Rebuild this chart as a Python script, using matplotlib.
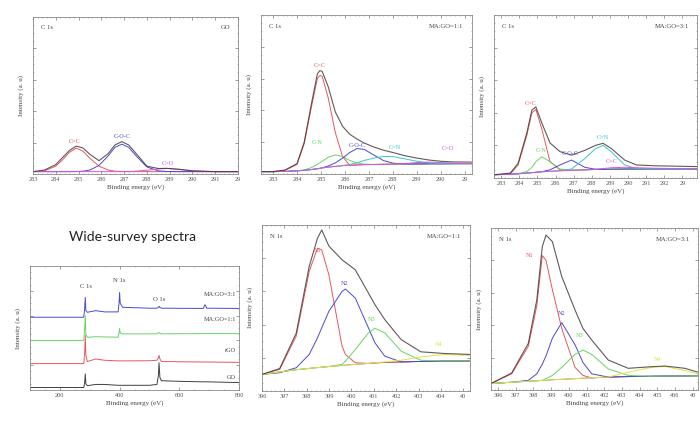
import numpy as np
import matplotlib
matplotlib.use('Agg')
import matplotlib.pyplot as plt

plt.rcParams['font.family'] = ['Liberation Serif', 'DejaVu Serif']

# ---- C 1s, GO ----
c_go_x = [283, 283.5, 284, 284.3, 284.6, 284.9, 285.2, 285.5, 285.9, 286.3, 286.6,
          286.9, 287.2, 287.5, 288, 288.5, 288.9, 289.4, 290, 291, 292]
c_go_env = [1.5, 2.5, 6, 10.5, 15, 17.8, 16.5, 12.5, 8.5, 13, 18.5,
            20.6, 18.5, 13.5, 5, 3.5, 3.6, 3, 2, 1.5, 1.5]
c_go_cc = [1.5, 2, 5, 9, 13.8, 16.5, 14.5, 10, 5, 2.5, 1.8,
           1.6, 1.5, 1.5, 1.5, 1.5, 1.5, 1.5, 1.5, 1.5, 1.5]
c_go_coc = [1.5, 1.5, 1.5, 1.5, 1.5, 1.6, 1.8, 2.5, 5.5, 11.5, 17,
            19, 17, 12, 4.5, 2, 1.6, 1.5, 1.5, 1.5, 1.5]
c_go_co = [1.5, 1.5, 1.5, 1.5, 1.5, 1.5, 1.5, 1.5, 1.5, 1.5, 1.5,
           1.5, 1.5, 1.8, 2.4, 3.2, 3.5, 3.0, 2.0, 1.5, 1.5]

# ---- C 1s, MA:GO=1:1 ----
c_11_x = [282.5, 283, 283.5, 284, 284.3, 284.6, 284.85, 284.95, 285.05, 285.3, 285.6, 285.9, 286.2,
          286.5, 286.8, 287.2, 287.6, 288, 288.5, 289, 289.5, 290, 290.5, 291.3]
c_11_env = [1.5, 1.5, 2.5, 6.5, 20, 44, 63, 65, 64.5, 55, 39, 30, 25,
            22, 19.5, 17, 15, 13.5, 11.5, 10, 8.8, 8, 7.6, 7.5]
c_11_base = [1.5, 1.5, 1.6, 2, 2.3, 2.8, 3.3, 3.5, 3.8, 4.3, 4.8, 5.2, 5.5,
             5.7, 5.9, 6.0, 6.1, 6.2, 6.3, 6.3, 6.4, 6.4, 6.5, 6.5]
c_11_cc = [1.5, 1.5, 2.3, 6, 19, 42, 60, 62, 61.5, 48, 26, 11, 5.5,
           5.7, 5.9, 6.0, 6.1, 6.2, 6.3, 6.3, 6.4, 6.4, 6.5, 6.5]
c_11_cn = [1.5, 1.5, 1.6, 2, 2.6, 4, 6, 7, 8, 10.5, 12, 11, 8.5,
           7, 6.2, 6.0, 6.1, 6.2, 6.3, 6.3, 6.4, 6.4, 6.5, 6.5]
c_11_coc = [1.5, 1.5, 1.6, 2, 2.3, 2.8, 3.3, 3.6, 3.9, 5, 7, 10, 13.5,
            16, 15.5, 12, 8.5, 6.8, 6.3, 6.3, 6.4, 6.4, 6.5, 6.5]
c_11_cn2 = [1.5, 1.5, 1.6, 2, 2.3, 2.8, 3.3, 3.5, 3.8, 4.3, 4.8, 5.3, 6,
            7, 8.5, 10, 11, 11, 9.5, 8, 7, 6.5, 6.4, 6.5]
c_11_co = [1.5, 1.5, 1.6, 2, 2.3, 2.8, 3.3, 3.5, 3.8, 4.3, 4.8, 5.2, 5.5,
           5.7, 5.9, 6.0, 6.1, 6.2, 6.6, 7.2, 7.5, 7.2, 6.8, 6.5]

# ---- C 1s, MA:GO=3:1 ----
c_31_x = [282.6, 283.5, 283.93, 284.41, 284.69, 284.91, 285.24, 285.69, 286.24, 286.88,
          287.62, 288.2, 288.62, 289.08, 289.81, 290.46, 291.5, 293.8]
c_31_env = [2, 3, 9, 27.6, 41.7, 43.6, 33.7, 21.5, 16.2, 14, 17, 20, 21.3, 18, 11, 8, 7.5, 7]
c_31_base = [2, 2.3, 2.6, 3, 3.3, 3.5, 3.8, 4.1, 4.4, 4.7, 5, 5.2, 5.3, 5.4, 5.5, 5.5, 5.5, 5.5]
c_31_cc = [2, 2.5, 8, 26, 40, 42, 30, 10, 5, 4.7, 5, 5.2, 5.3, 5.4, 5.5, 5.5, 5.5, 5.5]
c_31_cn = [2, 2.3, 2.6, 4, 6.5, 10, 13, 10, 5.5, 4.8, 5, 5.2, 5.3, 5.4, 5.5, 5.5, 5.5, 5.5]
c_31_coc = [2, 2.3, 2.6, 3, 3.3, 3.5, 3.9, 5, 8, 11, 6.5, 5.4, 5.3, 5.4, 5.5, 5.5, 5.5, 5.5]
c_31_cn2 = [2, 2.3, 2.6, 3, 3.3, 3.5, 3.8, 4.1, 4.5, 5.5, 12, 18, 20, 16, 8, 5.8, 5.5, 5.5]
c_31_co = [2, 2.3, 2.6, 3, 3.3, 3.5, 3.8, 4.1, 4.4, 4.7, 5, 5.4, 5.8, 6.3, 6.6, 6.3, 6, 5.6]

# ---- wide survey ----
sv_x = [100, 280, 283, 285, 287, 292, 320, 350, 395, 398, 400, 402, 410,
        500, 525, 530, 532, 535, 540, 600, 680, 686, 692, 800]
sv_go = [2, 2, 6, 13, 5, 3.5, 4.5, 4.5, 3.8, 3.8, 3.8, 3.8, 3.8,
         3.8, 4.5, 12, 22, 10, 7.5, 7, 6.6, 6.6, 6.6, 6]
sv_rgo = [21.3, 21.3, 30, 44, 28, 23, 25, 24, 23.5, 23.5, 23.5, 23.5, 23.5,
          23.6, 24, 26, 28, 25, 23, 22.8, 22.6, 22.6, 22.6, 22.3]
sv_11 = [40, 40, 50, 60, 45, 42.5, 43, 42.8, 42.6, 46, 49.8, 46, 45.3,
         45.3, 45.3, 46, 46.5, 45.8, 45.3, 45.4, 45.5, 45.5, 45.5, 45.5]
sv_31 = [58.7, 58.7, 66, 74.7, 64, 62.7, 64, 63, 63, 70, 78.7, 70, 66.7,
         66, 66, 66.8, 67.5, 66.5, 66, 65.9, 65.8, 68.8, 66, 65.8]
sv_names = ['GO', 'rGO', 'MA:GO=1:1', 'MA:GO=3:1']

# ---- N 1s, MA:GO=1:1 ----
n_11_x = [396, 396.79, 397.53, 398.11, 398.48, 398.67, 398.99, 399.58, 399.73, 400.17,
          400.76, 401.05, 401.49, 402.22, 403.1, 404.14, 405.3]
n_11_env = [10, 13.5, 34.8, 75, 92, 97, 87.3, 79, 77.5, 73, 59, 52, 43, 31, 23.6, 22.6, 22]
n_11_base = [10, 11.5, 12.8, 13.6, 14.1, 14.3, 14.7, 15.4, 15.6, 16, 16.6, 16.9, 17.2, 17.5, 17.8, 18, 18]
n_11_n1 = [10, 13, 33, 72, 86, 85, 70, 27, 22, 17, 16.6, 16.9, 17.2, 17.5, 17.8, 18, 18]
n_11_n2 = [10, 11, 14, 22, 32, 38, 48, 60, 61.4, 56, 38, 29, 21, 17.5, 17.8, 18, 18]
n_11_n3 = [10, 11.5, 12.8, 13.6, 14.1, 14.3, 14.8, 16, 18, 25, 35, 37.8, 35, 24, 18.5, 18, 18]
n_11_n4 = [10, 11.5, 12.8, 13.6, 14.1, 14.3, 14.7, 15.4, 15.6, 16, 16.6, 17, 17.5, 18.5, 20.5, 22, 21.5]

# ---- N 1s, MA:GO=3:1 ----
n_31_x = [395.6, 396.77, 397.71, 398.19, 398.5, 398.71, 399.07, 399.6, 400.35, 400.8,
          401.29, 402.23, 403.36, 404.68, 405.43, 406.56, 407.3]
n_31_env = [4, 10.5, 28.8, 55.6, 88.5, 95.7, 91.6, 70, 49.4, 38, 30.9, 18.5, 13.4, 14.4, 14.8, 13.4, 11]
n_31_base = [4, 4.8, 5.4, 5.7, 5.9, 6.0, 6.3, 6.6, 7, 7.3, 7.5, 8, 8.3, 8.5, 8.6, 8.7, 8.8]
n_31_n1 = [4, 10, 27, 52, 83, 80, 62, 38, 14, 9, 7.5, 8, 8.3, 8.5, 8.6, 8.7, 8.8]
n_31_n2 = [4, 4.8, 6, 10, 16, 21, 32, 41.6, 28, 17, 10, 8, 8.3, 8.5, 8.6, 8.7, 8.8]
n_31_n3 = [4, 4.8, 5.4, 5.7, 6, 7, 9, 14, 22, 24.7, 22, 13, 9, 8.5, 8.6, 8.7, 8.8]
n_31_n4 = [4, 4.8, 5.4, 5.7, 5.9, 6.0, 6.3, 6.6, 7, 7.3, 7.6, 8, 11, 14, 14.5, 12, 10]

c_env = '#3c3030'
c_base = '#6a5a8a'
c_red = '#e2595f'
c_green = '#66d466'
c_blue = '#4a4ad0'
c_cyan = '#3cc4c8'
c_mag = '#e052e0'
c_yel = '#e2e24a'
c_tick = '#777777'

fig = plt.figure(figsize=(7, 4.21), dpi=100)


def style(ax, xlim, xticks, xlabels):
    ax.set_xlim(*xlim)
    ax.set_ylim(0, 100)
    ax.set_xticks(xticks)
    ax.set_xticklabels(xlabels, fontsize=4.5, color='#555555')
    ax.set_yticks([20, 40, 60, 80])
    ax.set_yticklabels([])
    ax.tick_params(direction='in', length=2, width=0.5, color=c_tick, top=True, right=True, pad=2)
    ax.minorticks_on()
    ax.tick_params(which='minor', direction='in', length=1, width=0.4, color=c_tick, top=True, right=True)
    for s in ax.spines.values():
        s.set_color('#8a8a8a')
        s.set_linewidth(0.6)
    ax.set_xlabel('Binding energy (eV)', fontsize=5, color='#444444', labelpad=2)
    ax.set_ylabel('Intensity (a. u)', fontsize=5, color='#444444', labelpad=3)


def corner(ax, left, right):
    ax.text(0.04, 0.93, left, transform=ax.transAxes, fontsize=4.8, color='#444444', va='center')
    ax.text(0.96, 0.93, right, transform=ax.transAxes, fontsize=4.8, color='#444444', va='center', ha='right')


# C 1s GO
ax1 = fig.add_axes([0.0471, 0.5867, 0.2929, 0.3729])
ax1.plot(c_go_x, c_go_cc, color=c_red, lw=0.7)
ax1.plot(c_go_x, c_go_coc, color=c_blue, lw=0.7)
ax1.plot(c_go_x, c_go_co, color=c_mag, lw=0.7)
ax1.plot(c_go_x, c_go_env, color=c_env, lw=0.8, alpha=0.8)
style(ax1, (283, 292), list(range(283, 293)), [str(v) for v in range(283, 292)] + ['29'])
corner(ax1, 'C 1s', 'GO')
ax1.text(284.85, 20, 'C=C', color=c_red, fontsize=4.5, ha='center')
ax1.text(286.9, 23, 'C-O-C', color=c_blue, fontsize=4.5, ha='center')
ax1.text(288.9, 6, 'C=O', color=c_mag, fontsize=4.5, ha='center')

# C 1s MA:GO=1:1
ax2 = fig.add_axes([0.3729, 0.5867, 0.3014, 0.3777])
ax2.plot(c_11_x, c_11_base, color=c_yel, lw=0.6)
ax2.plot(c_11_x, c_11_cc, color=c_red, lw=0.7)
ax2.plot(c_11_x, c_11_cn, color=c_green, lw=0.7)
ax2.plot(c_11_x, c_11_coc, color=c_blue, lw=0.7)
ax2.plot(c_11_x, c_11_cn2, color=c_cyan, lw=0.7)
ax2.plot(c_11_x, c_11_co, color=c_mag, lw=0.7)
ax2.plot(c_11_x, c_11_env, color=c_env, lw=0.8, alpha=0.8)
style(ax2, (282.5, 291.3), list(range(283, 292)), [str(v) for v in range(283, 291)] + ['29'])
corner(ax2, 'C 1s', 'MA:GO=1:1')
ax2.text(284.95, 67, 'C=C', color=c_red, fontsize=4.5, ha='center')
ax2.text(284.85, 19, 'C-N', color=c_green, fontsize=4.5, ha='center')
ax2.text(286.5, 17, 'C-O-C', color=c_blue, fontsize=4.5, ha='center')
ax2.text(288.1, 16, 'C=N', color=c_cyan, fontsize=4.5, ha='center')
ax2.text(290.3, 15, 'C=O', color=c_mag, fontsize=4.5, ha='center')

# C 1s MA:GO=3:1
ax3 = fig.add_axes([0.7057, 0.5772, 0.29, 0.3872])
ax3.plot(c_31_x, c_31_base, color=c_yel, lw=0.6)
ax3.plot(c_31_x, c_31_cc, color=c_red, lw=0.7)
ax3.plot(c_31_x, c_31_cn, color=c_green, lw=0.7)
ax3.plot(c_31_x, c_31_coc, color=c_blue, lw=0.7)
ax3.plot(c_31_x, c_31_cn2, color=c_cyan, lw=0.7)
ax3.plot(c_31_x, c_31_co, color=c_mag, lw=0.7)
ax3.plot(c_31_x, c_31_env, color=c_env, lw=0.8, alpha=0.8)
style(ax3, (282.6, 293.8), list(range(283, 294)), [str(v) for v in range(283, 293)] + ['29'])
corner(ax3, 'C 1s', 'MA:GO=3:1')
ax3.text(284.6, 45, 'C=C', color=c_red, fontsize=4.5, ha='center')
ax3.text(285.2, 16, 'C-N', color=c_green, fontsize=4.5, ha='center')
ax3.text(286.8, 14, 'C-O-C', color=c_blue, fontsize=4.5, ha='center')
ax3.text(288.6, 24, 'C=N', color=c_cyan, fontsize=4.5, ha='center')
ax3.text(289.1, 9, 'C=C', color=c_mag, fontsize=4.5, ha='center')

# wide survey
fig.text(0.189, 0.438, 'Wide-survey spectra', fontsize=10, family=['Lato', 'DejaVu Sans'],
         ha='center', va='center', color='#222222')
ax4 = fig.add_axes([0.0429, 0.0736, 0.2986, 0.2945])
for yy, col in zip([sv_go, sv_rgo, sv_11, sv_31], ['#404040', c_red, c_green, c_blue]):
    ax4.plot(sv_x, yy, color=col, lw=0.7)
style(ax4, (100, 800), [200, 400, 600, 800], ['200', '400', '600', '800'])
ax4.set_ylabel('Intensity (a. u)', fontsize=5, color='#444444', labelpad=3)
ax4.text(287, 82, 'C 1s', fontsize=4.8, color='#444444', ha='center')
ax4.text(400, 87, 'N 1s', fontsize=4.8, color='#444444', ha='center')
ax4.text(532, 72, 'O 1s', fontsize=4.8, color='#444444', ha='center')
for yy, name in zip([4.5, 27, 52, 72], sv_names):
    ax4.text(790, yy + 4, name, fontsize=4.5, color='#444444', ha='right')

# N 1s MA:GO=1:1
ax5 = fig.add_axes([0.3743, 0.0713, 0.2971, 0.3943])
ax5.plot(n_11_x, n_11_base, color=c_base, lw=0.6)
ax5.plot(n_11_x, n_11_n1, color=c_red, lw=0.7)
ax5.plot(n_11_x, n_11_n2, color=c_blue, lw=0.7)
ax5.plot(n_11_x, n_11_n3, color=c_green, lw=0.7)
ax5.plot(n_11_x, n_11_n4, color=c_yel, lw=0.7)
ax5.plot(n_11_x, n_11_env, color=c_env, lw=0.8, alpha=0.8)
style(ax5, (396, 405.3), list(range(396, 406)), [str(v) for v in range(396, 405)] + ['40'])
corner(ax5, 'N 1s', 'MA:GO=1:1')
ax5.text(398.5, 84, 'N1', color=c_red, fontsize=4.5, ha='center')
ax5.text(399.7, 64, 'N2', color=c_blue, fontsize=4.5, ha='center')
ax5.text(400.9, 42, 'N3', color=c_green, fontsize=4.5, ha='center')
ax5.text(403.9, 27, 'N4', color=c_yel, fontsize=4.5, ha='center')

# N 1s MA:GO=3:1
ax6 = fig.add_axes([0.7014, 0.0736, 0.2957, 0.3848])
ax6.plot(n_31_x, n_31_base, color=c_base, lw=0.6)
ax6.plot(n_31_x, n_31_n1, color=c_red, lw=0.7)
ax6.plot(n_31_x, n_31_n2, color=c_blue, lw=0.7)
ax6.plot(n_31_x, n_31_n3, color=c_green, lw=0.7)
ax6.plot(n_31_x, n_31_n4, color=c_yel, lw=0.7)
ax6.plot(n_31_x, n_31_env, color=c_env, lw=0.8, alpha=0.8)
style(ax6, (395.6, 407.3), list(range(396, 408)), [str(v) for v in range(396, 407)] + ['40'])
corner(ax6, 'N 1s', 'MA:GO=3:1')
ax6.text(397.8, 82, 'N1', color=c_red, fontsize=4.5, ha='center')
ax6.text(399.6, 46, 'N2', color=c_blue, fontsize=4.5, ha='center')
ax6.text(400.6, 33, 'N3', color=c_green, fontsize=4.5, ha='center')
ax6.text(405.0, 18, 'N4', color=c_yel, fontsize=4.5, ha='center')

fig.savefig('out.png', dpi=100)
